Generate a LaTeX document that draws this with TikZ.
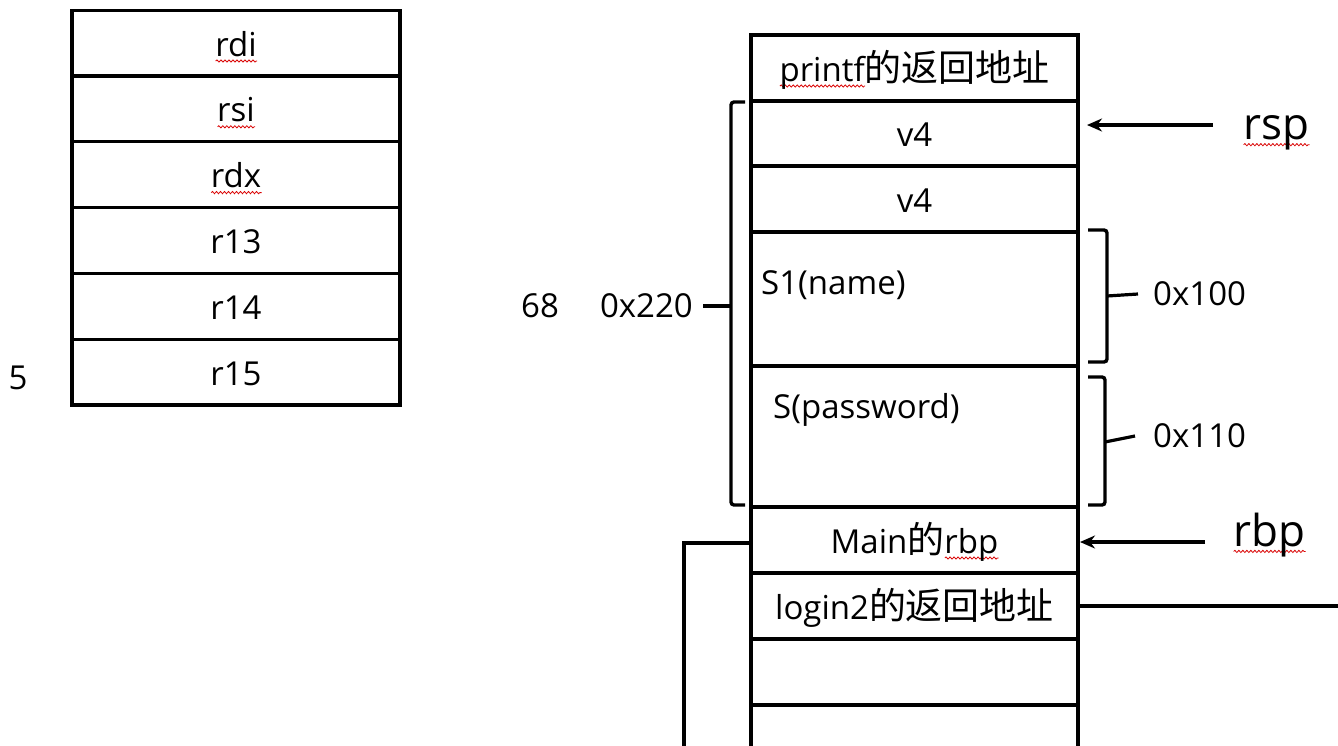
\documentclass[tikz,border=0pt]{standalone}
\usepackage{fontspec}
\setmainfont{Open Sans}
\newfontfamily\cjk[Scale=1.12]{Noto Sans CJK SC}
\usetikzlibrary{positioning,arrows.meta,decorations.pathmorphing}
\newsavebox\wavybox
\newcommand\wavy[1]{\sbox\wavybox{#1}\rlap{\tikz[baseline=0pt]\draw[red!85!black,line width=0.8pt,decorate,decoration={snake,amplitude=1.1pt,segment length=4pt}] (0pt,-5pt) -- (\wd\wavybox,-5pt);}\usebox\wavybox}

\begin{document}
\begin{tikzpicture}[x=1pt,y=-1pt,
  every node/.style={font=\fontsize{33}{36}\selectfont,inner sep=0pt},
  cell/.style={draw,line width=3.2pt,minimum width=327pt,outer sep=0pt,text height=30pt,text depth=4pt},
  wire/.style={line width=3.2pt},
  brak/.style={line width=3.4pt,rounded corners=3pt},
  ptr/.style={line width=3.2pt,-{Stealth[length=15pt,width=13pt]}},
  reg/.style={font=\fontsize{44}{48}\selectfont}]
\useasboundingbox (0,0) rectangle (1338,745);

\foreach \r [count=\i] in {\wavy{rdi},\wavy{rsi},\wavy{rdx},r13,r14,r15}
  \node[cell,minimum width=328pt,minimum height=65.8pt] (arg\i) at (236,{43+65.8*(\i-1)}) {\r};
\node (five) at (18,378) {5};

\node[cell,minimum height=66pt] (ret) at (914.5,68) {\wavy{printf}{\cjk 的返回地址}};
\node[cell,minimum height=65pt,below=0pt of ret] (v4a) {v4};
\node[cell,minimum height=66pt,below=0pt of v4a] (v4b) {v4};
\node[cell,minimum height=134pt,below=0pt of v4b] (name) {};
\node[cell,minimum height=141pt,below=0pt of name] (pass) {};
\node[cell,minimum height=66pt,below=0pt of pass] (mrbp) {Main{\cjk 的}\wavy{rbp}};
\node[cell,minimum height=66pt,below=0pt of mrbp] (ret2) {login2{\cjk 的返回地址}};
\node[cell,minimum height=66pt,below=0pt of ret2] (e1) {};
\node[cell,minimum height=66pt,below=0pt of e1] (e2) {};

\node[anchor=west] (s1) at (761,285) {S1(name)};
\node[anchor=west] (s) at (773,410) {S(password)};

\node (n68) at (540,306) {68};
\node[anchor=east] (l220) at (693,306) {0x220};
\node[anchor=west] (l100) at (1153,294) {0x100};
\node[anchor=west] (l110) at (1153,436) {0x110};

\draw[brak] (745,102) -- (731,102) -- (731,505) -- (745,505);
\draw[brak] (1088,230) -- (1107,230) -- (1107,362) -- (1088,362);
\draw[brak] (1088,377) -- (1105,377) -- (1105,505) -- (1088,505);
\coordinate (b220) at (731,306);
\coordinate (b100) at (1107,296);
\coordinate (b110) at (1105,442);
\draw[wire] ([xshift=10pt]l220.east) -- (b220);
\draw[wire] (b100) -- ([xshift=-15pt]l100.west);
\draw[wire] (b110) -- ([xshift=-18pt]l110.west);

\node[reg,anchor=west] (rsp) at (1243,133) {\wavy{rsp}};
\node[reg,anchor=west] (rbp) at (1233,535) {\wavy{rbp}};
\coordinate (rspa) at (1213,125);
\coordinate (rbpa) at (1205,542);
\draw[ptr,shorten >=9pt] (rspa) -- (rspa -| v4a.east);
\draw[ptr,shorten >=2pt] (rbpa) -- (rbpa -| mrbp.east);

\coordinate (down) at (684,760);
\coordinate (out) at (1340,607);
\draw[wire] ([yshift=-3pt]mrbp.west) -| (down);
\draw[wire] (ret2.east) -- (ret2.east -| out);
\end{tikzpicture}
\end{document}
